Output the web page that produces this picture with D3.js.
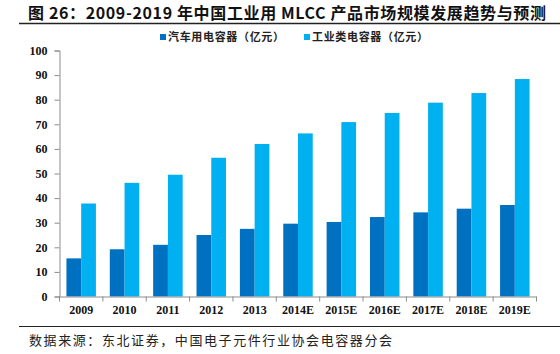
<!DOCTYPE html>
<html>
<head>
<meta charset="utf-8">
<script src="https://cdn.jsdelivr.net/npm/d3@7"></script>
<style>
  body { margin: 0; background: #fff; }
  svg { display: block; }
</style>
</head>
<body>
<div class="canvas"></div>
<script>
// data
const years = ['2009', '2010', '2011', '2012', '2013', '2014E', '2015E', '2016E', '2017E', '2018E', '2019E'];
const autoCaps = [15.5, 19.2, 21, 25, 27.5, 29.6, 30.3, 32.3, 34.2, 35.7, 37.2];
const industryCaps = [37.8, 46.2, 49.5, 56.4, 62, 66.3, 70.9, 74.6, 78.8, 82.7, 88.4];
const seriesNames = ['汽车用电容器（亿元）', '工业类电容器（亿元）'];
const colors = ['#0070C0', '#00B0F0'];
const yTicks = [0, 10, 20, 30, 40, 50, 60, 70, 80, 90, 100];

const dims = { width: 560, height: 354 };
const plot = { left: 59.5, right: 536.5, top: 50.5, bottom: 296.5 };
const axisColor = '#8c8c8c';
const serif = '"Liberation Serif", "Times New Roman", serif';
const cjk = '"Noto Sans CJK SC", sans-serif';

const svg = d3.select('.canvas')
    .append('svg')
    .attr('width', dims.width)
    .attr('height', dims.height);

// title
svg.append('text')
    .attr('x', 28)
    .attr('y', 19)
    .attr('font-family', cjk)
    .attr('font-weight', 'bold')
    .attr('font-size', 16)
    .attr('textLength', 518)
    .attr('fill', '#111')
    .text('图 26：2009-2019 年中国工业用 MLCC 产品市场规模发展趋势与预测');

svg.append('line')
    .attr('x1', 19).attr('x2', 560)
    .attr('y1', 23.5).attr('y2', 23.5)
    .attr('stroke', '#222').attr('stroke-width', 1.5);

// scales
const x0 = d3.scaleBand()
    .domain(years)
    .range([plot.left, plot.right])
    .paddingInner(0.32)
    .paddingOuter(0.16);

const x1 = d3.scaleBand()
    .domain([0, 1])
    .range([0, x0.bandwidth()]);

const y = d3.scaleLinear()
    .domain([0, 100])
    .range([plot.bottom, plot.top]);

// bars
const groups = svg.append('g')
    .selectAll('g')
    .data(years)
    .enter()
    .append('g')
        .attr('transform', d => `translate(${x0(d)},0)`);

groups.selectAll('rect')
    .data((d, i) => [autoCaps[i], industryCaps[i]])
    .enter()
    .append('rect')
        .attr('x', (d, i) => x1(i))
        .attr('y', d => y(d))
        .attr('width', x1.bandwidth())
        .attr('height', d => y(0) - y(d))
        .attr('fill', (d, i) => colors[i]);

// y axis
const yAxis = svg.append('g')
    .attr('transform', `translate(${plot.left},0)`)
    .call(d3.axisLeft(y).tickValues(yTicks).tickSize(5).tickPadding(7));

yAxis.select('.domain').attr('stroke', axisColor);
yAxis.selectAll('.tick line').attr('stroke', axisColor);
yAxis.selectAll('.tick text')
    .attr('font-family', serif)
    .attr('font-weight', 'bold')
    .attr('font-size', 12)
    .attr('fill', '#111');

// x axis
const xAxis = svg.append('g')
    .attr('transform', `translate(0,${plot.bottom})`)
    .call(d3.axisBottom(x0).tickSize(0).tickPadding(9).tickSizeOuter(0));

xAxis.select('.domain').attr('stroke', axisColor);
xAxis.selectAll('.tick text')
    .attr('font-family', serif)
    .attr('font-weight', 'bold')
    .attr('font-size', 12)
    .attr('fill', '#111');

// category boundary ticks
const step = x0.step();
const bounds = d3.range(years.length + 1).map(i => plot.left + i * step);
svg.append('g')
    .selectAll('line')
    .data(bounds)
    .enter()
    .append('line')
        .attr('x1', d => d).attr('x2', d => d)
        .attr('y1', plot.bottom).attr('y2', plot.bottom + 5)
        .attr('stroke', axisColor);

// legend
const legendX = [160, 304];
const legend = svg.append('g')
    .selectAll('g')
    .data(seriesNames)
    .enter()
    .append('g')
        .attr('transform', (d, i) => `translate(${legendX[i]},34)`);

legend.append('rect')
    .attr('width', 6).attr('height', 6)
    .attr('fill', (d, i) => colors[i]);

legend.append('text')
    .attr('x', 8)
    .attr('y', 7)
    .attr('font-family', cjk)
    .attr('font-weight', 'bold')
    .attr('font-size', 11)
    .attr('textLength', 116)
    .attr('fill', '#222')
    .text(d => d);

// bottom rule and source
svg.append('line')
    .attr('x1', 19).attr('x2', 560)
    .attr('y1', 326.5).attr('y2', 326.5)
    .attr('stroke', '#222').attr('stroke-width', 1.2);

svg.append('text')
    .attr('x', 29)
    .attr('y', 345)
    .attr('font-family', cjk)
    .attr('font-size', 13)
    .attr('textLength', 363)
    .attr('fill', '#222')
    .text('数据来源：东北证券，中国电子元件行业协会电容器分会');
</script>
</body>
</html>
